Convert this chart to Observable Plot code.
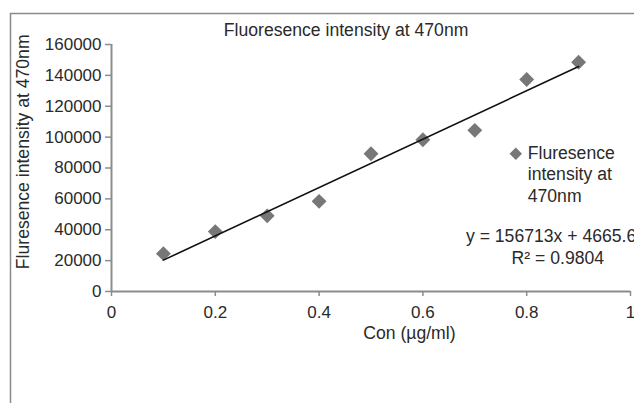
<!DOCTYPE html>
<html>
<head>
<meta charset="utf-8">
<script src="https://cdn.jsdelivr.net/npm/d3@7"></script>
<script src="https://cdn.jsdelivr.net/npm/@observablehq/plot@0.6"></script>
<style>
  html, body { margin: 0; padding: 0; background: #fff; overflow: hidden; }
  #chart { width: 634px; height: 403px; }
  svg { font-family: "Liberation Sans", Arial, sans-serif; }
</style>
</head>
<body>
<div id="chart"></div>
<script>
// ---- data ----
const concentrations = [0.1, 0.2, 0.3, 0.4, 0.5, 0.6, 0.7, 0.8, 0.9];
const intensities = [24500, 38800, 49000, 58400, 89200, 98300, 104400, 137300, 148500];
const xTicks = [0, 0.2, 0.4, 0.6, 0.8, 1];
const yTicks = [0, 20000, 40000, 60000, 80000, 100000, 120000, 140000, 160000];
const slope = 156713;
const intercept = 4665.6;
const fitRange = [0.1, 0.9];
const titleText = "Fluoresence intensity at 470nm";
const yLabelText = "Fluresence intensity at 470nm";
const xLabelText = "Con (µg/ml)";
const legendLines = ["Fluresence", "intensity at", "470nm"];
const equationText = "y = 156713x + 4665.6";
const r2Text = "R² = 0.9804";

const points = concentrations.map((c, i) => ({x: c, y: intensities[i]}));
const fit = fitRange.map(x => ({x, y: slope * x + intercept}));

const gray = "#8c8c8c";
const textColor = "#2a2a2a";
const fs = 17;
const fsBig = 17.6;

const chart = Plot.plot({
  width: 634,
  height: 403,
  marginLeft: 111,
  marginRight: 4,
  marginTop: 44,
  marginBottom: 112,
  style: {fontSize: fs + "px", fontFamily: "'Liberation Sans', Arial, sans-serif", color: textColor, overflow: "visible"},
  x: {domain: [0, 1]},
  y: {domain: [0, 160000]},
  marks: [
    Plot.axisX({ticks: xTicks, tickSize: 5, tickPadding: 9, stroke: gray, strokeWidth: 1.5, tickFormat: d => String(d), fill: textColor, label: null, fontSize: fs}),
    Plot.axisY({ticks: yTicks, tickSize: 6, tickPadding: 4, stroke: gray, strokeWidth: 1.5, tickFormat: d => String(d), fill: textColor, label: null, fontSize: fs}),
    Plot.ruleX([0], {stroke: gray, strokeWidth: 2}),
    Plot.ruleY([0], {stroke: gray, strokeWidth: 2}),
    Plot.dot(points, {x: "x", y: "y", symbol: "diamond2", r: 6.7, fill: "#777777", stroke: "none"}),
    Plot.line(fit, {x: "x", y: "y", stroke: "#111", strokeWidth: 1.6}),
    // title
    Plot.text([titleText], {x: 0.452, y: 169300, text: d => d, fontSize: fsBig, fill: textColor, textAnchor: "middle"}),
    // y label
    Plot.text([yLabelText], {x: -0.169, y: 90500, text: d => d, rotate: -90, fontSize: fsBig, fill: textColor, textAnchor: "middle"}),
    // x label
    Plot.text([xLabelText], {x: 0.574, y: -27400, text: d => d, fontSize: fsBig, fill: textColor, textAnchor: "middle"}),
    // legend
    Plot.dot([0], {x: 0.779, y: 89200, symbol: "diamond2", r: 5.6, fill: "#777777", stroke: "none"}),
    Plot.text(legendLines, {x: 0.802, y: (d, i) => 89200 - i * 21 * 649.4, text: d => d, fontSize: fsBig, fill: textColor, textAnchor: "start"}),
    // trendline equation
    Plot.text([equationText], {x: 0.683, y: 35500, text: d => d, fontSize: fsBig, fill: textColor, textAnchor: "start"}),
    Plot.text([r2Text], {x: 0.86, y: 21300, text: d => d, fontSize: fsBig, fill: textColor, textAnchor: "middle"})
  ]
});

// outer chart frame (top and left edges visible)
const svg = d3.select(chart);
svg.insert("path", ":first-child")
  .attr("d", "M10.5,403 L10.5,13.5 L634,13.5")
  .attr("fill", "none")
  .attr("stroke", "#8a8a8a")
  .attr("stroke-width", 1.5);

document.getElementById("chart").appendChild(chart);
</script>
</body>
</html>
